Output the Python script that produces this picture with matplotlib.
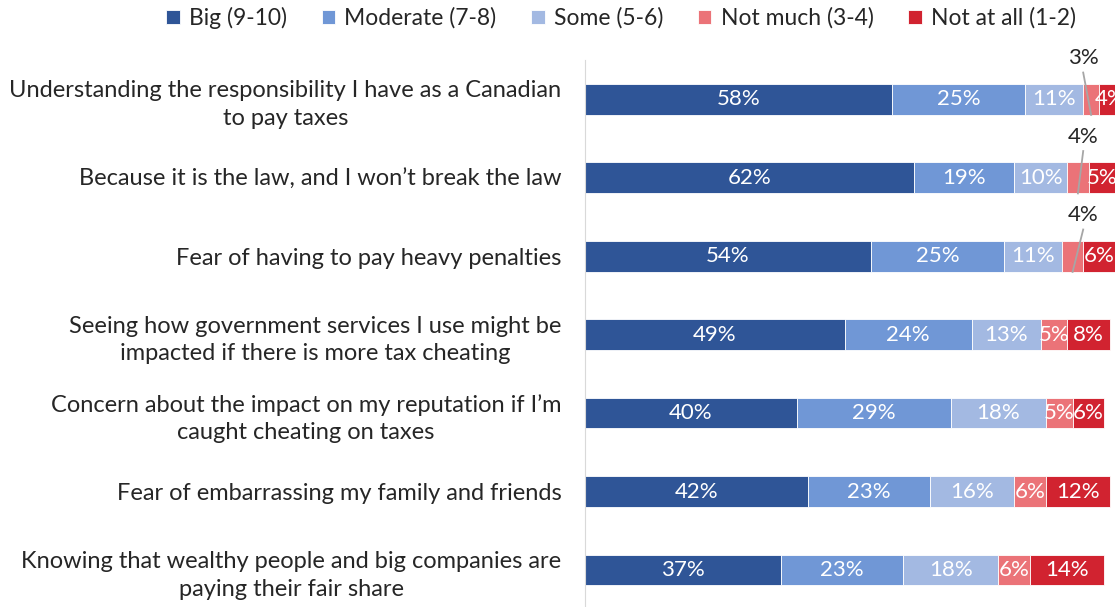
import numpy as np
import matplotlib.pyplot as plt

plt.rcParams['font.family'] = ['Lato', 'DejaVu Sans']

# Survey reasons, top to bottom
categories = [
    "Understanding the responsibility I have as a Canadian\nto pay taxes",
    "Because it is the law, and I won\u2019t break the law",
    "Fear of having to pay heavy penalties",
    "Seeing how government services I use might be\nimpacted if there is more tax cheating",
    "Concern about the impact on my reputation if I\u2019m\ncaught cheating on taxes",
    "Fear of embarrassing my family and friends",
    "Knowing that wealthy people and big companies are\npaying their fair share",
]

series_names = ["Big (9-10)", "Moderate (7-8)", "Some (5-6)", "Not much (3-4)", "Not at all (1-2)"]
big = [58, 62, 54, 49, 40, 42, 37]
moderate = [25, 19, 25, 24, 29, 23, 23]
some = [11, 10, 11, 13, 18, 16, 18]
not_much = [3, 4, 4, 5, 5, 6, 6]
not_at_all = [4, 5, 6, 8, 6, 12, 14]

colors = ["#2F5597", "#7097D6", "#A3B9E2", "#EB7378", "#D12330"]

values = np.array([big, moderate, some, not_much, not_at_all])
n = len(categories)
y = np.arange(n)

fig = plt.figure(figsize=(11.15, 6.07), dpi=100)
ax = fig.add_axes([585 / 1115, 0, 530 / 1115, 547 / 607])

left = np.zeros(n)
for i, (name, vals, c) in enumerate(zip(series_names, values, colors)):
    ax.barh(y, vals, left=left, height=0.39, color=c, label=name,
            edgecolor='white', linewidth=0.6)
    for j, v in enumerate(vals):
        cx = left[j] + v / 2
        if i == 3 and j < 3:
            # thin segments: label above the bar with a grey leader line
            ax.text(94, j - 0.52, f"{v}%", ha='center', va='center',
                    fontsize=16, color='#262626', clip_on=False)
            ax.plot([94, cx], [j - 0.34, j + 0.2], color='#A6A6A6', lw=1.3,
                    clip_on=False, zorder=3)
        else:
            ax.text(cx, j, f"{v}%", ha='center', va='center', color='white',
                    fontsize=16, clip_on=True)
    left += vals

ax.set_xlim(0, 100)
ax.set_ylim(n - 0.53, -0.5)
ax.set_yticks(y)
ax.set_yticklabels(categories, fontsize=17, color='#262626', linespacing=1.4,
                   multialignment='center')
ax.tick_params(axis='y', length=0, pad=17)
ax.set_xticks([])
for s in ['top', 'right', 'bottom']:
    ax.spines[s].set_visible(False)
ax.spines['left'].set_color('#D9D9D9')

handles, labels = ax.get_legend_handles_labels()
fig.legend(handles, labels, loc='center', bbox_to_anchor=(621 / 1115, 1 - 18 / 607),
           ncol=5, frameon=False, fontsize=16.5, handlelength=0.6, handleheight=0.6,
           handletextpad=0.4, columnspacing=1.5, labelcolor='#262626')

fig.savefig('out.png', dpi=100)
